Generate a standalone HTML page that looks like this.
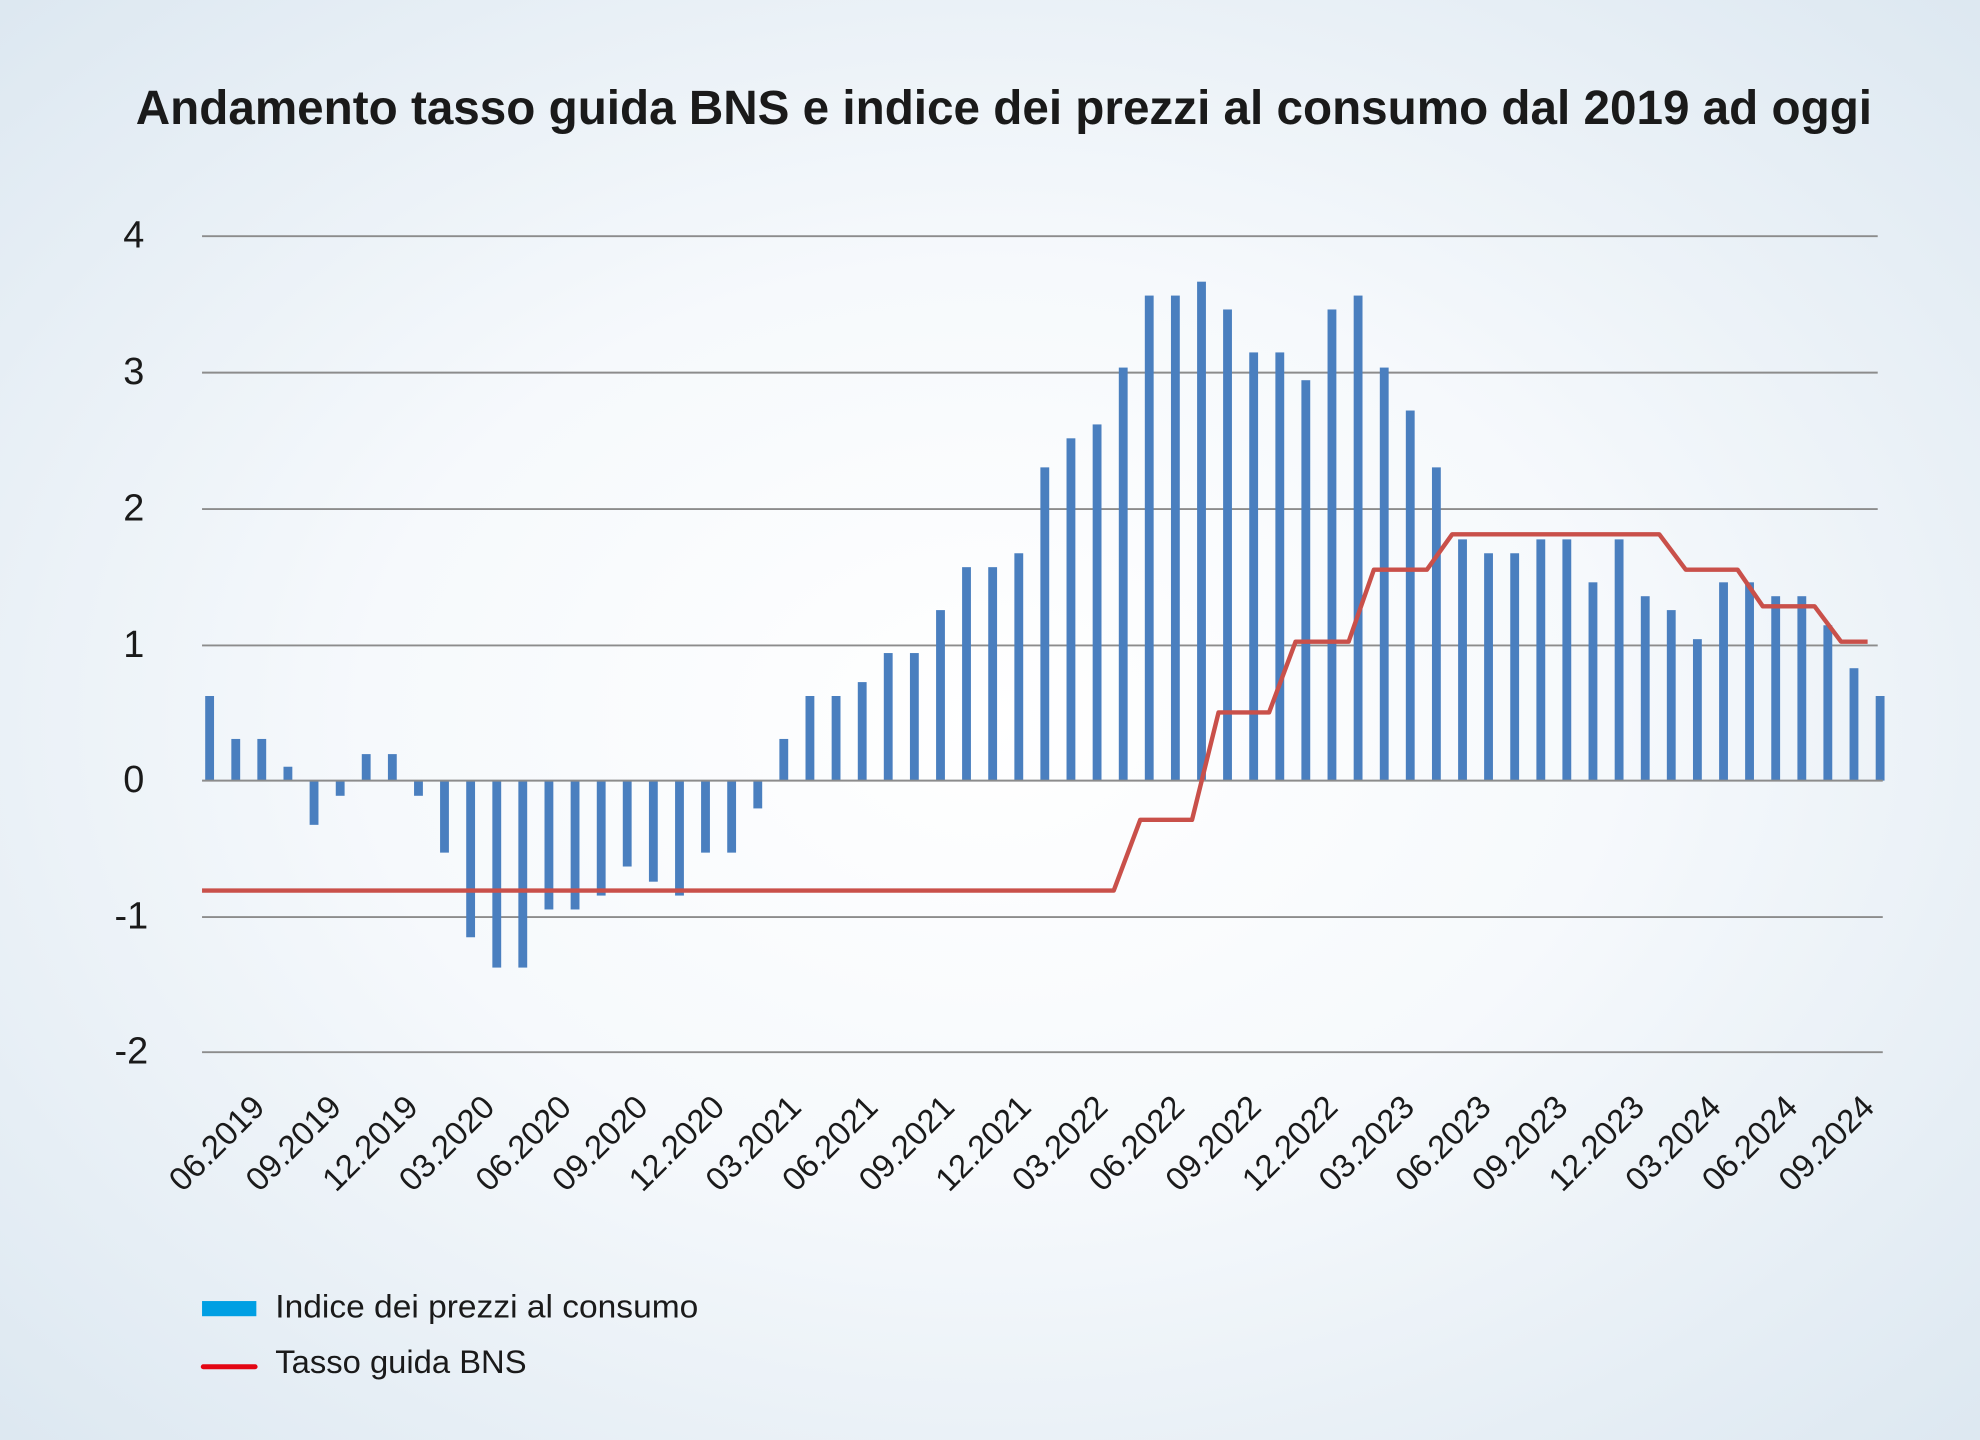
<!DOCTYPE html>
<html><head><meta charset="utf-8"><style>
html,body{margin:0;padding:0;width:1980px;height:1440px;overflow:hidden}
svg{display:block}
text{font-family:"Liberation Sans",sans-serif;fill:#1a1a1a}
</style></head><body>
<svg width="1980" height="1440" viewBox="0 0 1568 1140" preserveAspectRatio="none" xmlns="http://www.w3.org/2000/svg">
<defs><radialGradient id="bg" cx="50%" cy="50%" r="70%"><stop offset="0" stop-color="#ffffff"/><stop offset="0.45" stop-color="#f6f9fc"/><stop offset="1" stop-color="#dde8f1"/></radialGradient></defs>
<rect width="1568" height="1140" fill="url(#bg)"/>
<text x="795" y="98" text-anchor="middle" font-size="38" font-weight="bold" textLength="1375" lengthAdjust="spacingAndGlyphs">Andamento tasso guida BNS e indice dei prezzi al consumo dal 2019 ad oggi</text>
<g stroke="#8c8c8c" stroke-width="1.5">
<line x1="160" y1="187" x2="1487" y2="187"/><line x1="160" y1="295" x2="1487" y2="295"/><line x1="160" y1="403" x2="1487" y2="403"/><line x1="160" y1="511" x2="1487" y2="511"/><line x1="160" y1="726" x2="1491" y2="726"/><line x1="160" y1="833" x2="1491" y2="833"/>
</g>
<g font-size="30" text-anchor="middle" fill="#222">
<text x="106" y="196">4</text><text x="106" y="304">3</text><text x="106" y="412">2</text><text x="106" y="520">1</text><text x="106" y="627">0</text><text x="104" y="735">-1</text><text x="104" y="842">-2</text>
</g>
<g fill="#4a7fbf">
<rect x="162.5" y="551" width="7" height="67"/><rect x="183.2" y="585" width="7" height="33"/><rect x="203.8" y="585" width="7" height="33"/><rect x="224.5" y="607" width="7" height="11"/><rect x="245.2" y="618" width="7" height="35"/><rect x="265.9" y="618" width="7" height="12"/><rect x="286.5" y="597" width="7" height="21"/><rect x="307.2" y="597" width="7" height="21"/><rect x="327.9" y="618" width="7" height="12"/><rect x="348.5" y="618" width="7" height="57"/><rect x="369.2" y="618" width="7" height="124"/><rect x="389.9" y="618" width="7" height="148"/><rect x="410.5" y="618" width="7" height="148"/><rect x="431.2" y="618" width="7" height="102"/><rect x="451.9" y="618" width="7" height="102"/><rect x="472.6" y="618" width="7" height="91"/><rect x="493.2" y="618" width="7" height="68"/><rect x="513.9" y="618" width="7" height="80"/><rect x="534.6" y="618" width="7" height="91"/><rect x="555.2" y="618" width="7" height="57"/><rect x="575.9" y="618" width="7" height="57"/><rect x="596.6" y="618" width="7" height="22"/><rect x="617.2" y="585" width="7" height="33"/><rect x="637.9" y="551" width="7" height="67"/><rect x="658.6" y="551" width="7" height="67"/><rect x="679.3" y="540" width="7" height="78"/><rect x="699.9" y="517" width="7" height="101"/><rect x="720.6" y="517" width="7" height="101"/><rect x="741.3" y="483" width="7" height="135"/><rect x="761.9" y="449" width="7" height="169"/><rect x="782.6" y="449" width="7" height="169"/><rect x="803.3" y="438" width="7" height="180"/><rect x="823.9" y="370" width="7" height="248"/><rect x="844.6" y="347" width="7" height="271"/><rect x="865.3" y="336" width="7" height="282"/><rect x="886" y="291" width="7" height="327"/><rect x="906.6" y="234" width="7" height="384"/><rect x="927.3" y="234" width="7" height="384"/><rect x="948" y="223" width="7" height="395"/><rect x="968.6" y="245" width="7" height="373"/><rect x="989.3" y="279" width="7" height="339"/><rect x="1010" y="279" width="7" height="339"/><rect x="1030.6" y="301" width="7" height="317"/><rect x="1051.3" y="245" width="7" height="373"/><rect x="1072" y="234" width="7" height="384"/><rect x="1092.7" y="291" width="7" height="327"/><rect x="1113.3" y="325" width="7" height="293"/><rect x="1134" y="370" width="7" height="248"/><rect x="1154.7" y="427" width="7" height="191"/><rect x="1175.3" y="438" width="7" height="180"/><rect x="1196" y="438" width="7" height="180"/><rect x="1216.7" y="427" width="7" height="191"/><rect x="1237.3" y="427" width="7" height="191"/><rect x="1258" y="461" width="7" height="157"/><rect x="1278.7" y="427" width="7" height="191"/><rect x="1299.4" y="472" width="7" height="146"/><rect x="1320" y="483" width="7" height="135"/><rect x="1340.7" y="506" width="7" height="112"/><rect x="1361.4" y="461" width="7" height="157"/><rect x="1382" y="461" width="7" height="157"/><rect x="1402.7" y="472" width="7" height="146"/><rect x="1423.4" y="472" width="7" height="146"/><rect x="1444" y="495" width="7" height="123"/><rect x="1464.7" y="529" width="7" height="89"/><rect x="1485.4" y="551" width="7" height="67"/>
</g>
<line x1="160" y1="618" x2="1491" y2="618" stroke="#8c8c8c" stroke-width="1.5"/>
<polyline fill="none" stroke="#c9504a" stroke-width="3.5" stroke-linejoin="round" points="160,705 882,705 903,649 944,649 965,564 1005,564 1026,508 1068,508 1088,451 1130,451 1150,423 1314,423 1335,451 1376,451 1396,480 1437,480 1458,508 1479,508"/>
<g font-size="26" text-anchor="end" fill="#222">
<text transform="translate(211,878) rotate(-45)">06.2019</text>
<text transform="translate(271.7,878) rotate(-45)">09.2019</text>
<text transform="translate(332.4,878) rotate(-45)">12.2019</text>
<text transform="translate(393.1,878) rotate(-45)">03.2020</text>
<text transform="translate(453.8,878) rotate(-45)">06.2020</text>
<text transform="translate(514.5,878) rotate(-45)">09.2020</text>
<text transform="translate(575.2,878) rotate(-45)">12.2020</text>
<text transform="translate(635.9,878) rotate(-45)">03.2021</text>
<text transform="translate(696.6,878) rotate(-45)">06.2021</text>
<text transform="translate(757.3,878) rotate(-45)">09.2021</text>
<text transform="translate(818,878) rotate(-45)">12.2021</text>
<text transform="translate(878.7,878) rotate(-45)">03.2022</text>
<text transform="translate(939.4,878) rotate(-45)">06.2022</text>
<text transform="translate(1000.1,878) rotate(-45)">09.2022</text>
<text transform="translate(1060.8,878) rotate(-45)">12.2022</text>
<text transform="translate(1121.5,878) rotate(-45)">03.2023</text>
<text transform="translate(1182.2,878) rotate(-45)">06.2023</text>
<text transform="translate(1242.9,878) rotate(-45)">09.2023</text>
<text transform="translate(1303.6,878) rotate(-45)">12.2023</text>
<text transform="translate(1364.3,878) rotate(-45)">03.2024</text>
<text transform="translate(1425,878) rotate(-45)">06.2024</text>
<text transform="translate(1485.7,878) rotate(-45)">09.2024</text>
</g>
<rect x="160" y="1030" width="43" height="12" fill="#009fe3"/>
<text x="218" y="1043" font-size="26" fill="#222" textLength="335" lengthAdjust="spacingAndGlyphs">Indice dei prezzi al consumo</text>
<line x1="161" y1="1082" x2="202" y2="1082" stroke="#e30613" stroke-width="4" stroke-linecap="round"/>
<text x="218" y="1087" font-size="26" fill="#222" textLength="199" lengthAdjust="spacingAndGlyphs">Tasso guida BNS</text>
</svg>
</body></html>
